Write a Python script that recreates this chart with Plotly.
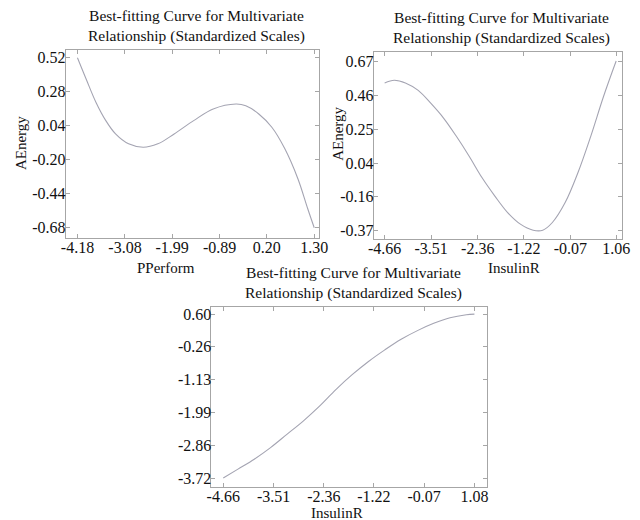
import plotly.graph_objects as go

# ---- data ----
p1_x = [-4.18, -3.977, -3.75, -3.524, -3.298, -2.997, -2.658, -2.32, -1.942, -1.49,
        -1.038, -0.51, -0.284, 0.017, 0.319, 0.62, 0.922, 1.148, 1.30]
p1_y = [0.52, 0.368, 0.204, 0.076, -0.018, -0.088, -0.112, -0.088, -0.018, 0.076,
        0.158, 0.193, 0.181, 0.123, 0.029, -0.123, -0.334, -0.544, -0.68]

p2_x = [-4.66, -4.423, -4.147, -3.831, -3.516, -3.2, -2.884, -2.568, -2.252, -1.937,
        -1.621, -1.306, -0.99, -0.753, -0.516, -0.2, 0.115, 0.43, 0.746, 1.06]
p2_y = [0.536, 0.552, 0.536, 0.49, 0.41, 0.319, 0.207, 0.085, -0.046, -0.158,
        -0.259, -0.33, -0.367, -0.367, -0.32, -0.198, -0.015, 0.207, 0.451, 0.67]

p3_x = [-4.66, -4.324, -3.952, -3.579, -3.206, -2.833, -2.46, -2.087, -1.714, -1.341,
        -0.968, -0.595, -0.222, 0.15, 0.523, 0.896, 1.08]
p3_y = [-3.72, -3.484, -3.222, -2.917, -2.568, -2.218, -1.826, -1.389, -0.997, -0.648,
        -0.342, -0.063, 0.164, 0.356, 0.504, 0.583, 0.60]

p1_xticks = ["-4.18", "-3.08", "-1.99", "-0.89", "0.20", "1.30"]
p1_yticks = ["0.52", "0.28", "0.04", "-0.20", "-0.44", "-0.68"]
p2_xticks = ["-4.66", "-3.51", "-2.36", "-1.22", "-0.07", "1.06"]
p2_yticks = ["0.67", "0.46", "0.25", "0.04", "-0.16", "-0.37"]
p3_xticks = ["-4.66", "-3.51", "-2.36", "-1.22", "-0.07", "1.08"]
p3_yticks = ["0.60", "-0.26", "-1.13", "-1.99", "-2.86", "-3.72"]

title_text = "Best-fitting Curve for Multivariate<br>Relationship (Standardized Scales)"

FONT = "Liberation Serif, Times New Roman, serif"
W, H = 624, 512          # figure starts 8px in (page body margin)
OX, OY = 8, 8
LINE = "#a4a4b2"
BORDER = "#a6a6a6"


def px(xp):
    return (xp - OX) / W


def py(yp):
    return 1 - (yp - OY) / H


fig = go.Figure()

panels = [
    ("x", "y", p1_x, p1_y, p1_xticks, p1_yticks, (62, 321), (48, 237), [-4.45, 1.41], [-0.75, 0.576]),
    ("x2", "y2", p2_x, p2_y, p2_xticks, p2_yticks, (377, 631), (50, 238), [-4.93, 1.205], [-0.419, 0.727]),
    ("x3", "y3", p3_x, p3_y, p3_xticks, p3_yticks, (211, 493), (307, 488), [-4.93, 1.37], [-3.96, 0.78]),
]

layout = dict(
    width=W, height=H,
    margin=dict(l=0, r=0, t=0, b=0),
    paper_bgcolor="white", plot_bgcolor="white",
    showlegend=False,
    font=dict(family=FONT, size=15, color="#111111"),
)

annotations = []
for i, (xa, ya, xs, ys, xt, yt, xd, yd, xr, yr) in enumerate(panels):
    fig.add_trace(go.Scatter(x=xs, y=ys, mode="lines", xaxis=xa, yaxis=ya,
                             line=dict(color=LINE, width=1.1, shape="spline", smoothing=1.0)))
    suffix = "" if i == 0 else str(i + 1)
    axis_common = dict(showline=True, linecolor=BORDER, linewidth=1, mirror="allticks",
                       ticks="inside", ticklen=4, tickcolor=BORDER, showgrid=False,
                       zeroline=False, tickfont=dict(family=FONT, size=16, color="#111111"))
    layout["xaxis" + suffix] = dict(
        axis_common, domain=[px(xd[0]), px(xd[1])], range=xr,
        tickmode="array", tickvals=[float(t) for t in xt], ticktext=xt,
        anchor="y" + suffix, ticklabelstandoff=-5)
    layout["yaxis" + suffix] = dict(
        axis_common, domain=[py(yd[1]), py(yd[0])], range=yr,
        tickmode="array", tickvals=[float(t) for t in yt], ticktext=yt,
        anchor="x" + suffix, ticklabelstandoff=-4)
    annotations.append(dict(
        text=title_text, xref="paper", yref="paper",
        x=px((xd[0] + xd[1]) / 2 + 4), y=py(yd[0] - 3),
        xanchor="center", yanchor="bottom", showarrow=False,
        font=dict(family=FONT, size=15.5, color="#111111")))

annotations += [
    dict(text="PPerform", x=px(165), y=py(268), xref="paper", yref="paper",
         showarrow=False, xanchor="center", yanchor="middle", font=dict(family=FONT, size=15)),
    dict(text="AEnergy", x=px(16), y=py(142), xref="paper", yref="paper", textangle=-90,
         showarrow=False, xanchor="center", yanchor="middle", font=dict(family=FONT, size=15)),
    dict(text="InsulinR", x=px(521), y=py(268), xref="paper", yref="paper",
         showarrow=False, xanchor="center", yanchor="middle", font=dict(family=FONT, size=15)),
    dict(text="AEnergy", x=px(341), y=py(133), xref="paper", yref="paper", textangle=-90,
         showarrow=False, xanchor="center", yanchor="middle", font=dict(family=FONT, size=15)),
    dict(text="InsulinR", x=px(339), y=py(514), xref="paper", yref="paper",
         showarrow=False, xanchor="center", yanchor="middle", font=dict(family=FONT, size=15)),
]
layout["annotations"] = annotations

fig.update_layout(**layout)
fig.write_html("out.html")
